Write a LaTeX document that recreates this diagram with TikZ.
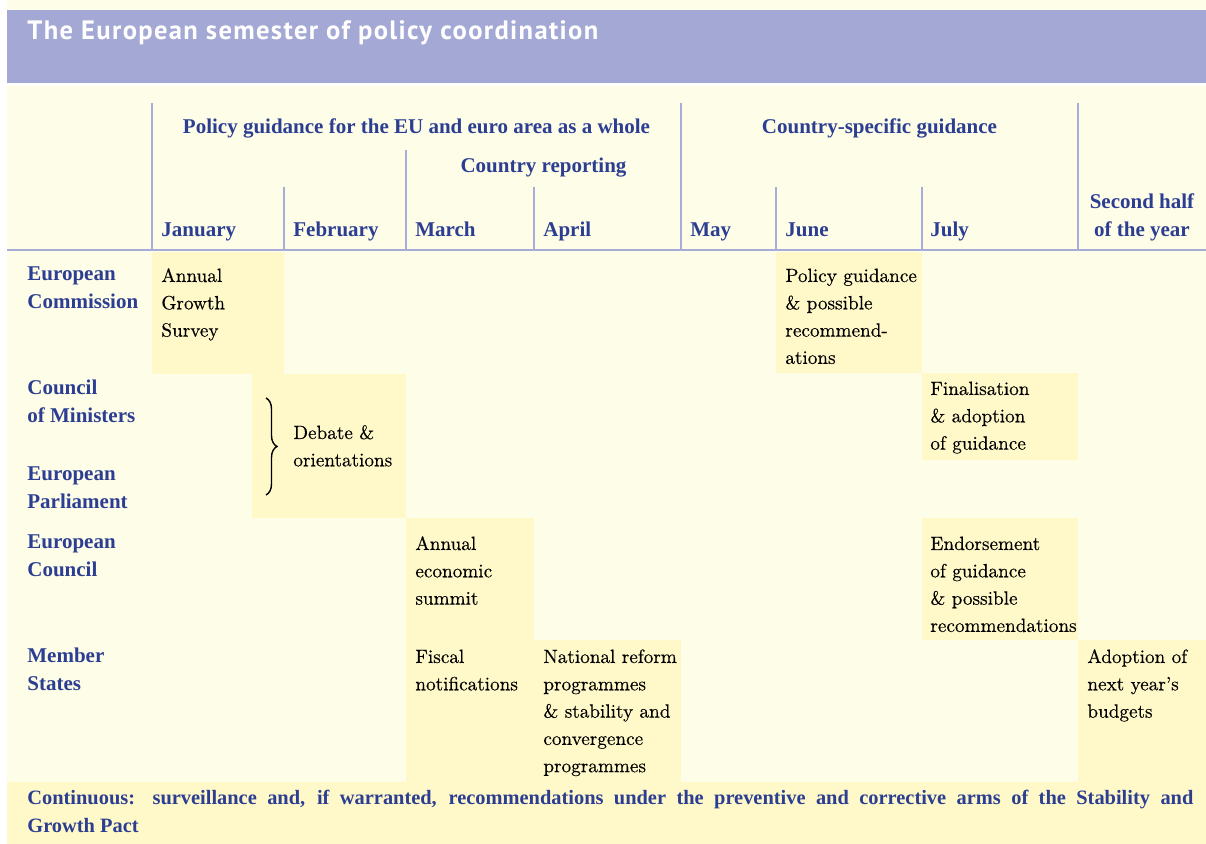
\documentclass[tikz,border=0pt]{standalone}
\usepackage{fontspec}
\usetikzlibrary{decorations.pathreplacing}
\newfontfamily\hdrserif[Ligatures=TeX]{Liberation Serif}
\newfontfamily\bodyfont[Ligatures=TeX,FakeBold=0.3]{Latin Modern Roman}
\newfontfamily\titlefont[LetterSpace=5]{PT Sans}
\definecolor{bgcream}{HTML}{FEFDE8}
\definecolor{cellhl}{HTML}{FFF9C9}
\definecolor{titlebar}{HTML}{A3A8D4}
\definecolor{rulecol}{HTML}{A7ACD8}
\definecolor{eublue}{HTML}{2C3E91}
\newcommand\stk[1]{\vtop{\let\\\cr\halign{##\hfil\cr#1\crcr}}}
\newcommand\stkc[1]{\vtop{\let\\\cr\halign{\hfil##\hfil\cr#1\crcr}}}
\tikzset{
  hdr/.style={font=\hdrserif\fontsize{10.5}{13.65}\selectfont\bfseries, text=eublue, inner sep=0pt},
  rowlbl/.style={hdr, anchor=base west},
  body/.style={font=\bodyfont\fontsize{9.6}{13.65}\selectfont, text=black, inner sep=0pt, anchor=base west},
  titletext/.style={font=\titlefont\bfseries\fontsize{13.3}{15}\selectfont, text=white, inner sep=0pt, anchor=base west},
  hl/.style={fill=cellhl},
  rulel/.style={draw=rulecol, line width=0.8pt},
  bracel/.style={draw=black, line width=0.7pt, decorate, decoration={brace, amplitude=5.5pt}},
}
\begin{document}
\begin{tikzpicture}[x=0.5pt,y=-0.5pt]
\useasboundingbox (0,0) rectangle (1206,844);
% backgrounds
\fill[white] (0,0) rectangle (1206,844);
\fill[bgcream] (7,0) rectangle (1206,844);
\fill[titlebar] (7,10) rectangle (1206,83);
\fill[white] (7,83) rectangle (1206,86);
% highlighted cells
\fill[hl] (152,252) rectangle (284,374);
\fill[hl] (252,374) rectangle (406,518);
\fill[hl] (776,252) rectangle (922,373);
\fill[hl] (922,373) rectangle (1078,460);
\fill[hl] (406,518) rectangle (534,782);
\fill[hl] (922,518) rectangle (1078,640);
\fill[hl] (534,640) rectangle (681,782);
\fill[hl] (1078,640) rectangle (1206,782);
\fill[hl] (7,782) rectangle (1206,844);
% header rules
\coordinate (v1t) at (152,103); \coordinate (v1b) at (152,250);
\coordinate (v2t) at (284,187); \coordinate (v2b) at (284,250);
\coordinate (v3t) at (406,150); \coordinate (v3b) at (406,250);
\coordinate (v4t) at (534,187); \coordinate (v4b) at (534,250);
\coordinate (v5t) at (681,103); \coordinate (v5b) at (681,250);
\coordinate (v6t) at (776,187); \coordinate (v6b) at (776,250);
\coordinate (v7t) at (922,187); \coordinate (v7b) at (922,250);
\coordinate (v8t) at (1078,103); \coordinate (v8b) at (1078,250);
\coordinate (hl1) at (7,250); \coordinate (hr1) at (1206,250);
\foreach \i in {1,...,8} \draw[rulel] (v\i t) -- (v\i b);
\draw[rulel] (hl1) -- (hr1);
% title
\node[titletext] (title) at (27,40) {The European semester of policy coordination};
% headers
\node[hdr, anchor=base] (hpg) at (416.5,134) {Policy guidance for the EU and euro area as a whole};
\node[hdr, anchor=base] (hcr) at (543.5,173) {Country reporting};
\node[hdr, anchor=base] (hcs) at (879.5,134) {Country-specific guidance};
\node[rowlbl] (mjan) at (161,237) {January};
\node[rowlbl] (mfeb) at (293,237) {February};
\node[rowlbl] (mmar) at (415,237) {March};
\node[rowlbl] (mapr) at (543,237) {April};
\node[rowlbl] (mmay) at (690,237) {May};
\node[rowlbl] (mjun) at (785,237) {June};
\node[rowlbl] (mjul) at (930,237) {July};
\node[hdr, anchor=base] (mh2) at (1142,209) {\stkc{Second half\\of the year}};
% row labels
\node[rowlbl] (rec) at (27,281) {\stk{European\\Commission}};
\node[rowlbl] (rcm) at (27,395) {\stk{Council\\of Ministers}};
\node[rowlbl] (rep) at (27,481) {\stk{European\\Parliament}};
\node[rowlbl] (reu) at (27,549) {\stk{European\\Council}};
\node[rowlbl] (rms) at (27,663) {\stk{Member\\States}};
% cells
\node[body] (cags) at (161,282) {\stk{Annual\\Growth\\Survey}};
\coordinate (brt) at (266,398);
\coordinate (brb) at (266,495);
\draw[bracel] (brt) -- (brb);
\node[body] (cdeb) at (293,439) {\stk{Debate \&\\orientations}};
\node[body] (cpg) at (785,282) {\stk{Policy guidance\\\& possible\\recommend-\\ations}};
\node[body] (cfin) at (930,395) {\stk{Finalisation\\\& adoption\\of guidance}};
\node[body] (caes) at (415,550) {\stk{Annual\\economic\\summit}};
\node[body] (cend) at (930,550) {\stk{Endorsement\\of guidance\\\& possible\\recommendations}};
\node[body] (cfis) at (415,663) {\stk{Fiscal\\notifications}};
\node[body] (cnrp) at (543,663) {\stk{National reform\\programmes\\\& stability and\\convergence\\programmes}};
\node[body] (cadp) at (1087,663) {\stk{Adoption of\\next year's\\budgets}};
% continuous
\node[rowlbl, font=\hdrserif\fontsize{10.2}{13.65}\selectfont\bfseries] (cont) at (27,805) {\stk{\makebox[583pt][s]{Continuous: surveillance and, if warranted, recommendations under the preventive and corrective arms of the Stability and}\\Growth Pact}};
\end{tikzpicture}
\end{document}
